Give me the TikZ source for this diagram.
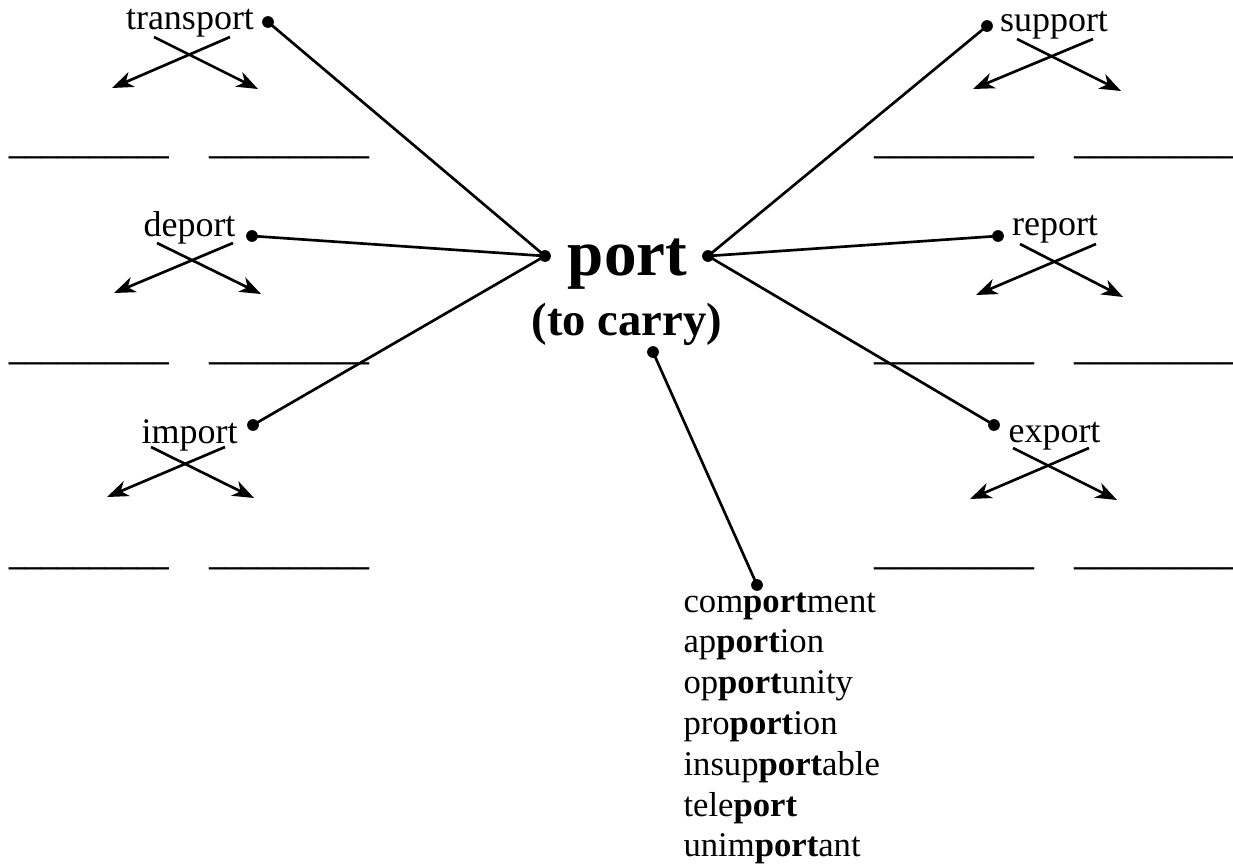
\documentclass[tikz,border=0pt]{standalone}
\usepackage{fontspec}
\setmainfont{Liberation Serif}
\usetikzlibrary{arrows.meta}
\tikzset{
  word/.style={anchor=base, inner sep=0pt, font=\fontsize{13.5}{15}\selectfont},
  blank/.style={anchor=base, inner sep=0pt, font=\fontsize{12}{14}\selectfont\bfseries},
  listword/.style={anchor=base west, inner sep=0pt, font=\fontsize{13}{15}\selectfont},
  title/.style={anchor=base, inner sep=0pt, font=\fontsize{24.4}{28}\selectfont\bfseries},
  subtitle/.style={anchor=base, inner sep=0pt, font=\fontsize{17.5}{20}\selectfont\bfseries},
  dot/.style={circle, fill=black, inner sep=0pt, minimum size=4.4pt},
  link/.style={line width=1pt, black},
  branch/.style={line width=1pt, -{Stealth[length=8pt,width=6pt,inset=2.4pt]}},
}
\newcommand{\blanks}{\_\_\_\_\_\_\_\_\_\_}
\begin{document}
\begin{tikzpicture}[x=0.375pt,y=-0.375pt]
\useasboundingbox (0,0) rectangle (1233,867);
% centre
\node[title] (port) at (627.5,275) {port};
\node[subtitle] (carry) at (627,335) {(to carry)};
\node[dot] (pL) at (545,256) {};
\node[dot] (pR) at (708,256) {};
\node[dot] (pB) at (653,352) {};
% words
\node[word] (transport) at (190,30) {transport};
\node[word] (deport) at (189.5,236) {deport};
\node[word] (import) at (189.5,443) {import};
\node[word] (support) at (1054,31) {support};
\node[word] (report) at (1055,235) {report};
\node[word] (export) at (1054.5,442) {export};
% dots
\node[dot] (dTr) at (268,22) {};
\node[dot] (dDe) at (252,236) {};
\node[dot] (dIm) at (253,425) {};
\node[dot] (dSu) at (987,26) {};
\node[dot] (dRe) at (998,236) {};
\node[dot] (dEx) at (994,425) {};
\node[dot] (dLi) at (757,585) {};
% links
\draw[link] (dTr.center) -- (pL.center);
\draw[link] (dDe.center) -- (pL.center);
\draw[link] (dIm.center) -- (pL.center);
\draw[link] (dSu.center) -- (pR.center);
\draw[link] (dRe.center) -- (pR.center);
\draw[link] (dEx.center) -- (pR.center);
\draw[link] (pB.center) -- (dLi.center);
% branch arrows
\foreach \n/\ax/\ay/\bx/\by in {
  trL/230/37/112/88, trR/154/37/258/89,
  deL/233/243/114/293, deR/157/243/261/294,
  imL/225/447/107/497, imR/151/447/254/498,
  suL/1093/39/973/89, suR/1017/39/1121/91,
  reL/1096/244/976/295, reR/1020/244/1123/297,
  exL/1089/448/970/499, exR/1013/448/1117/500}{
  \coordinate (\n s) at (\ax,\ay);
  \coordinate (\n e) at (\bx,\by);
  \draw[branch] (\n s) -- (\n e);
}
% blanks
\foreach \n/\cx/\cy in {
  b1/89/154, b2/289/154, b3/89/360, b4/289/360, b5/89/565, b6/289/565,
  b7/954/154, b8/1154/154, b9/954/360, b10/1154/360, b11/954/565, b12/1154/565}{
  \node[blank] (\n) at (\cx,\cy) {\blanks};
}
% list
\foreach \i/\w [count=\k] in {
  0/com\textbf{port}ment, 1/ap\textbf{port}ion, 2/op\textbf{port}unity,
  3/pro\textbf{port}ion, 4/insup\textbf{port}able, 5/tele\textbf{port},
  6/unim\textbf{port}ant}{
  \node[listword] (l\k) at (683,612+40.8*\i) {\w};
}
\end{tikzpicture}
\end{document}
